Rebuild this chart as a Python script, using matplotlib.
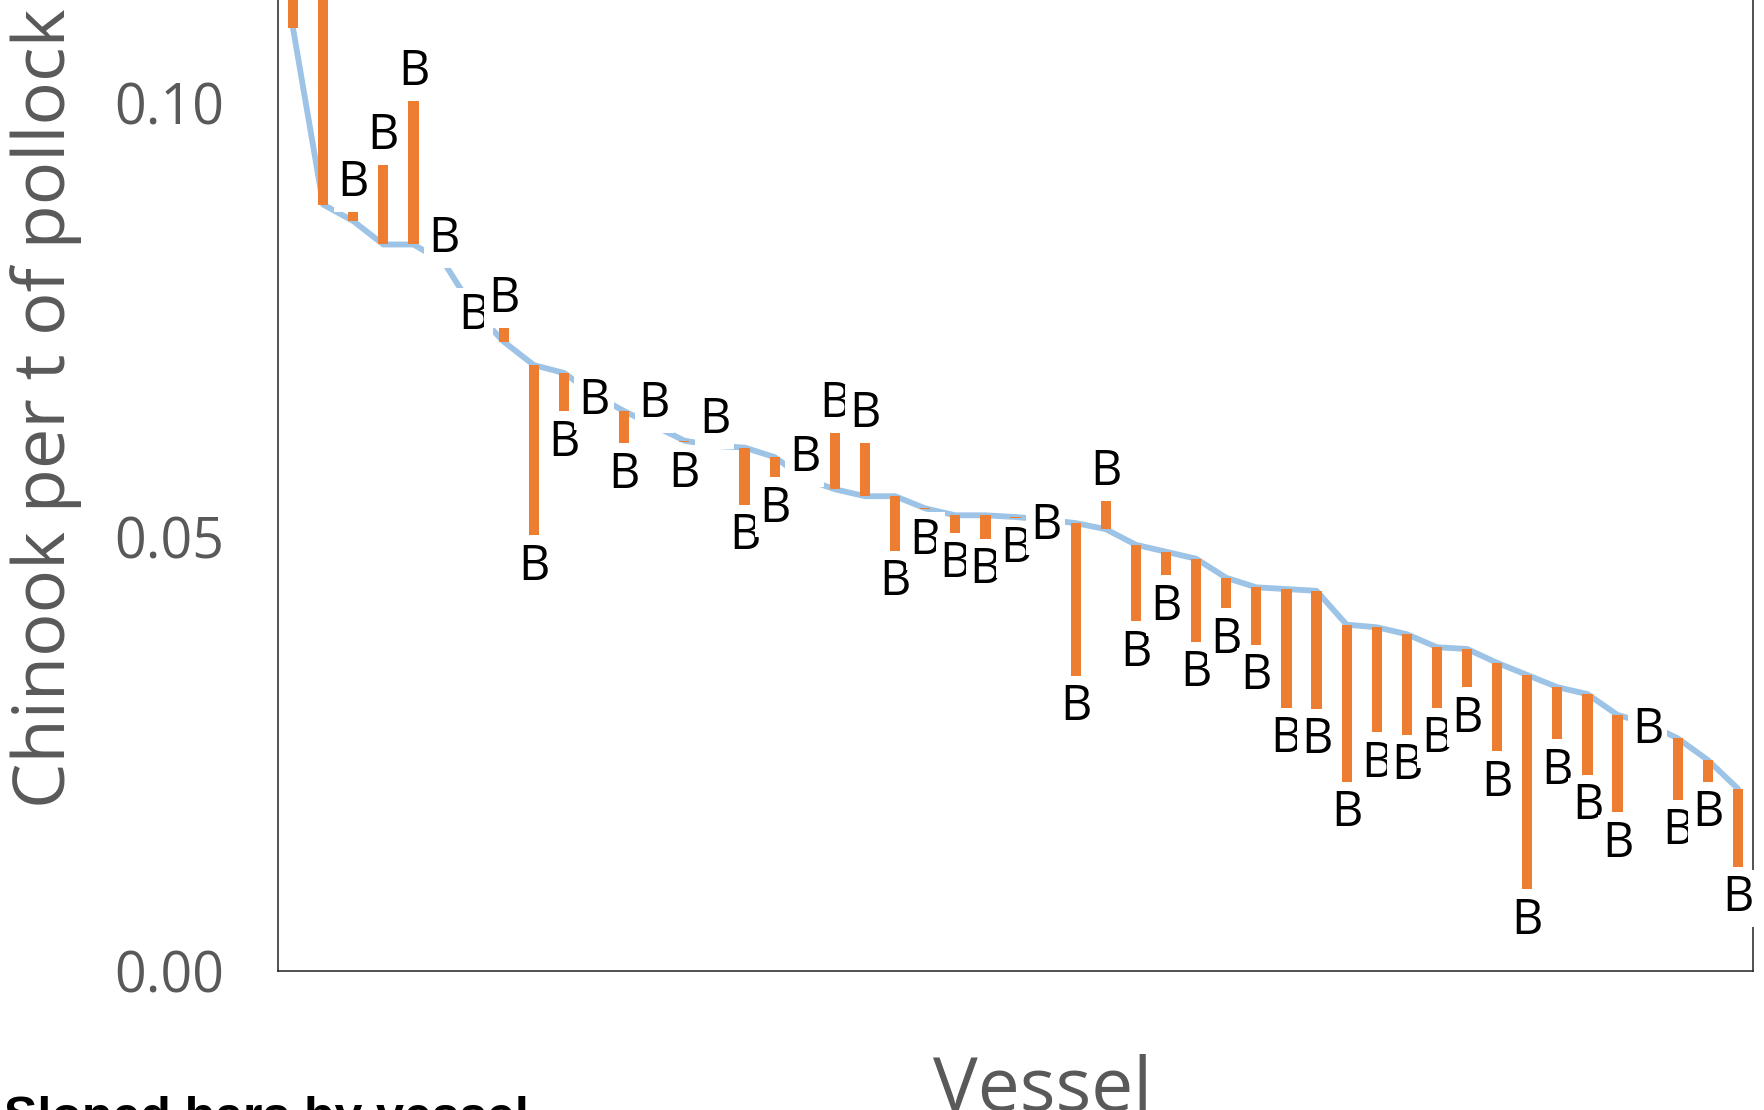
import matplotlib
matplotlib.use("Agg")
import matplotlib.pyplot as plt
import numpy as np

# vessels sorted by rate (blue line) and the other-period rate (orange bar end, "B")
vessel = list(range(49))
line_rate = [0.1086, 0.0883, 0.0864, 0.0837, 0.0837, 0.0817, 0.0762, 0.0725, 0.0698, 0.0689,
             0.0664, 0.0645, 0.0628, 0.0611, 0.0605, 0.0603, 0.0592, 0.0567, 0.0555, 0.0547,
             0.0547, 0.0533, 0.0525, 0.0525, 0.0523, 0.0520, 0.0516, 0.0509, 0.0491, 0.0483,
             0.0475, 0.0453, 0.0442, 0.0440, 0.0438, 0.0399, 0.0396, 0.0388, 0.0373, 0.0371,
             0.0355, 0.0341, 0.0327, 0.0319, 0.0295, 0.0285, 0.0268, 0.0243, 0.0210]
b_rate = [0.1250, 0.1300, 0.0885, 0.0939, 0.1013, 0.0820, 0.0762, 0.0751, 0.0502, 0.0645,
          0.0664, 0.0608, 0.0630, 0.0609, 0.0612, 0.0537, 0.0569, 0.0568, 0.0630, 0.0619,
          0.0484, 0.0532, 0.0505, 0.0498, 0.0522, 0.0520, 0.0340, 0.0552, 0.0403, 0.0456,
          0.0379, 0.0418, 0.0376, 0.0303, 0.0302, 0.0218, 0.0275, 0.0272, 0.0303, 0.0327,
          0.0253, 0.0094, 0.0267, 0.0226, 0.0183, 0.0285, 0.0197, 0.0218, 0.0120]
yticks = [0.00, 0.05, 0.10]
ytick_labels = ["0.00", "0.05", "0.10"]

GRAY = "#595959"
plt.rcParams["font.family"] = ["Open Sans", "DejaVu Sans"]

fig = plt.figure(figsize=(17.65, 11.10), dpi=100)
# the original is a crop: axes run past the top of the picture
ax = fig.add_axes([278 / 1765, 139 / 1110, 1475 / 1765, 1085 / 1110])

x = np.array(vessel)
L = np.array(line_rate)
B = np.array(b_rate)

ax.plot(x, L, color="#9DC3E6", lw=4.2, zorder=2, solid_capstyle="round")
ax.bar(x, B - L, bottom=L, width=0.34, color="#ED7D31", zorder=3)

for xi, li, bi in zip(x, L, B):
    if bi > li:
        va, dy = "baseline", 5
    elif bi < li:
        va, dy = "top", -5
    else:
        va, dy = "center", -5
    ax.annotate("B", (xi, bi), xytext=(0, dy), textcoords="offset points",
                ha="center", va=va, fontsize=35, color="black", zorder=5,
                bbox=dict(boxstyle="square,pad=0.08", fc="white", ec="none"))

ax.set_xlim(-0.5, 48.5)
ax.set_ylim(0, 0.125)
ax.set_xticks([])
ax.set_yticks(yticks)
ax.set_yticklabels(ytick_labels)
ax.tick_params(axis="y", length=0, pad=39, labelsize=40, labelcolor=GRAY)
for s in ax.spines.values():
    s.set_linewidth(1.1)
    s.set_color("#222222")

ax.set_ylabel("Chinook per t of pollock", fontsize=52, color=GRAY)
ax.yaxis.set_label_coords(-0.1329, 0.5184)
ax.set_xlabel("Vessel", fontsize=54, color=GRAY, va="top")
ax.xaxis.set_label_coords(0.5186, -0.0756)

fig.text(0.002, 1 - 1096 / 1110, "Sloped bars by vessel",
         fontsize=36, fontweight="bold", color="black", va="top", ha="left",
         family=["Liberation Sans", "DejaVu Sans"])

fig.savefig("out.png", dpi=100)
